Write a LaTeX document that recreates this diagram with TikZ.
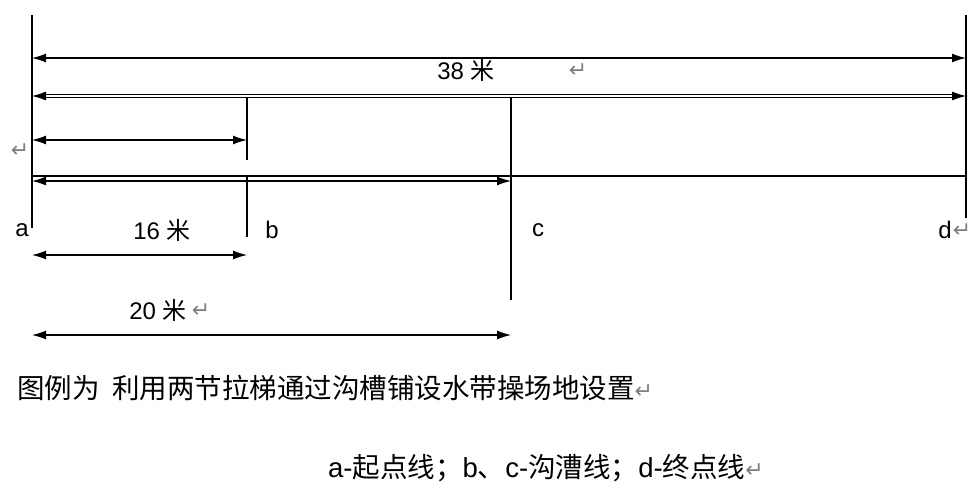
\documentclass[tikz,border=0pt]{standalone}
\usepackage{fontspec}
\setmainfont{Liberation Sans}
\newfontfamily\cjk{Noto Sans CJK SC}
\newfontfamily\dv{DejaVu Sans}
\usetikzlibrary{arrows.meta}
\newcommand{\rt}{\textcolor{gray}{\dv\fontsize{22}{24}\selectfont ↵}}
\begin{document}
\begin{tikzpicture}[x=1pt,y=-1pt,
  dim/.style={{Latex[length=14pt,width=9pt]}-{Latex[length=14pt,width=9pt]},line width=1.3pt},
  ln/.style={line width=1.6pt},
  lbl/.style={font=\fontsize{24}{28}\selectfont,inner sep=0pt},
  captxt/.style={font=\fontsize{27.5}{30}\selectfont,inner sep=0pt,anchor=west},
  ret/.style={inner sep=0pt}]
\useasboundingbox (0,0) rectangle (976,488);
\coordinate (aT) at (32,15); \coordinate (aB) at (32,228);
\coordinate (dT) at (966,15); \coordinate (dB) at (966,218);
\draw[ln] (aT)--(aB); \draw[ln] (dT)--(dB);
\draw[dim] (32,58) -- (966,58);
\node[lbl] (t38) at (466,70) {38 {\cjk 米}};
\node[ret] (r1) at (578,71) {\rt};
\draw[dim,double,double distance=2.5pt,line width=0.9pt] (32,96)--(966,96);
\draw[ln] (247,98)--(247,160); \draw[ln] (247,176)--(247,237);
\draw[dim] (32,140)--(247,140);
\node[ret] (r2) at (20,151) {\rt};
\draw[line width=2.2pt] (32,176)--(966,176);
\draw[dim] (32,181)--(511,181);
\draw[ln] (511,98)--(511,300);
\node[lbl] (a) at (22,230) {a};
\node[lbl] (b) at (272,230) {b};
\node[lbl] (c) at (538,230) {c};
\node[lbl] (d) at (945,230) {d};
\node[ret] (r3) at (962,231) {\rt};
\node[lbl] (t16) at (162,230) {16 {\cjk 米}};
\draw[dim] (32,255)--(247,255);
\node[lbl] (t20) at (158,310) {20 {\cjk 米}};
\node[ret] (r4) at (201,311) {\rt};
\draw[dim] (32,335)--(511,335);
\node[captxt] (cap1) at (17,388) {{\cjk 图例为\ \ 利用两节拉梯通过沟槽铺设水带操场地设置}\rt};
\node[captxt] (cap2) at (328,468) {a-{\cjk 起点线；}b{\cjk 、}c-{\cjk 沟漕线；}d-{\cjk 终点线}\rt};
\end{tikzpicture}
\end{document}
